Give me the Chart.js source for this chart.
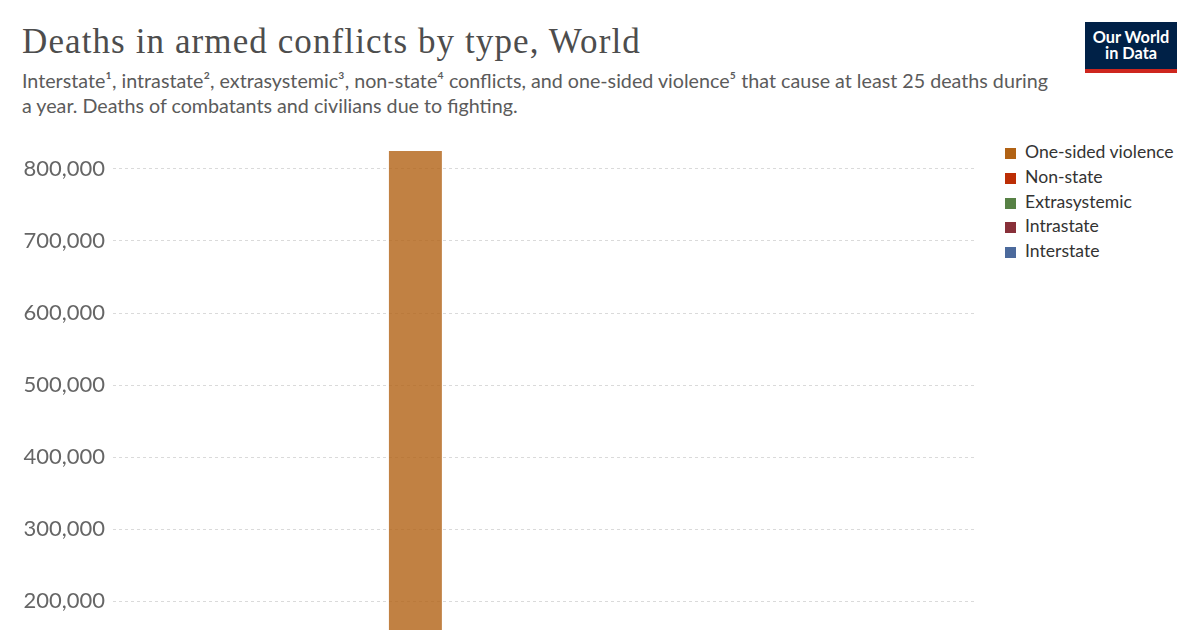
<!DOCTYPE html>
<html>
<head>
<meta charset="utf-8">
<script src="https://cdn.jsdelivr.net/npm/chart.js@4"></script>
<style>
  body { margin: 0; width: 1200px; height: 630px; overflow: hidden; background: #fff; position: relative; font-family: Lato, sans-serif; }
  #title { position: absolute; left: 22px; top: 22px; font-family: "Liberation Serif", serif; font-size: 35px; letter-spacing: 1.1px; color: #4d4d4d; white-space: nowrap; }
  #subtitle { position: absolute; left: 22px; top: 68px; font-size: 19.7px; line-height: 25px; color: #5b5b5b; white-space: nowrap; }
  #logo { position: absolute; left: 1085px; top: 22px; width: 92px; height: 40px; background: #002147; border-bottom: 4px solid #ce261e; color: #fff; font-weight: bold; font-size: 16.3px; line-height: 16px; text-align: center; padding-top: 7px; }
  #legend { position: absolute; left: 1005px; top: 140px; font-size: 17.6px; color: #333; }
  .row { height: 24.8px; line-height: 24px; white-space: nowrap; }
  .sw { display: inline-block; width: 11px; height: 11px; margin-right: 9px; vertical-align: -1px; }
  #wrap { position: absolute; left: 22px; top: 151px; width: 955px; height: 624px; }
</style>
</head>
<body>
<div id="title">Deaths in armed conflicts by type, World</div>
<div id="subtitle">Interstate¹, intrastate², extrasystemic³, non-state⁴ conflicts, and one-sided violence⁵ that cause at least 25 deaths during<br>a year. Deaths of combatants and civilians due to fighting.</div>
<div id="logo">Our World<br>in Data</div>
<div id="legend"></div>
<div id="wrap"><canvas id="chart"></canvas></div>
<script>
// Jahre und Todesopfer je Konflikttyp (geschätzt, nur 1994 oberhalb der Bildkante sichtbar)
const years = ['1991', '1992', '1993', '1994', '1995', '1996', '1997', '1998', '1999', '2000'];
const interstate    = [0, 0, 3000, 1500, 0, 0, 0, 12000, 48000, 39000];
const intrastate    = [68000, 52000, 46000, 32000, 28000, 26000, 24000, 28000, 30000, 24000];
const extrasystemic = [0, 0, 0, 0, 0, 0, 0, 0, 0, 0];
const nonState      = [5000, 14000, 6000, 4500, 6000, 6000, 5000, 6500, 4000, 5500];
const oneSided      = [12000, 10000, 12000, 787000, 16000, 18000, 22000, 9000, 8000, 7000];
const yTicks = [0, 100000, 200000, 300000, 400000, 500000, 600000, 700000, 800000];

const series = [
  { label: 'Interstate', data: interstate, color: 'rgba(76,106,156,0.8)', solid: '#4c6a9c' },
  { label: 'Intrastate', data: intrastate, color: 'rgba(136,48,57,0.8)', solid: '#883039' },
  { label: 'Extrasystemic', data: extrasystemic, color: 'rgba(87,129,69,0.8)', solid: '#578145' },
  { label: 'Non-state', data: nonState, color: 'rgba(188,46,5,0.8)', solid: '#bc2e05' },
  { label: 'One-sided violence', data: oneSided, color: 'rgba(177,98,20,0.8)', solid: '#b16214' }
];

const totals = years.map((y, i) => series.reduce((s, d) => s + d.data[i], 0));
const yMax = Math.max(...totals);

// Legende (oben = oberste Stapelschicht)
const legendEl = document.getElementById('legend');
series.slice().reverse().forEach(s => {
  const row = document.createElement('div');
  row.className = 'row';
  row.innerHTML = '<span class="sw" style="background:' + s.solid + '"></span>' + s.label;
  legendEl.appendChild(row);
});

new Chart(document.getElementById('chart'), {
  type: 'bar',
  data: {
    labels: years,
    datasets: series.map(s => ({
      label: s.label,
      data: s.data,
      backgroundColor: s.color,
      borderWidth: 0,
      barPercentage: 0.613,
      categoryPercentage: 1
    }))
  },
  options: {
    responsive: true,
    maintainAspectRatio: false,
    animation: false,
    layout: { padding: 0 },
    plugins: { legend: { display: false }, tooltip: { enabled: false } },
    scales: {
      x: {
        stacked: true,
        grid: { display: false },
        border: { display: false },
        ticks: { font: { family: 'Lato', size: 18 }, color: '#666' },
        afterFit: scale => { scale.height = 30; scale.paddingLeft = 0; scale.paddingRight = 0; }
      },
      y: {
        stacked: true,
        min: 0,
        max: yMax,
        border: { display: false, dash: [3, 3] },
        grid: { color: '#dadada', drawTicks: false },
        ticks: {
          padding: 8,
          font: { family: 'Lato', size: 22 },
          color: '#666',
          callback: v => v.toLocaleString('en-US')
        },
        afterBuildTicks: scale => { scale.ticks = yTicks.map(v => ({ value: v })); },
        afterFit: scale => { scale.width = 91; scale.paddingTop = 0; scale.paddingBottom = 0; }
      }
    }
  }
});
</script>
</body>
</html>
